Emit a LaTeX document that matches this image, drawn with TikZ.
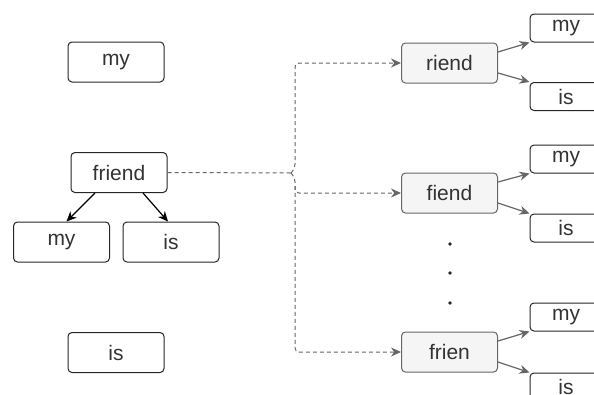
\documentclass[tikz,border=0pt]{standalone}
\usepackage{fontspec}
\setmainfont{Liberation Sans}
\usetikzlibrary{arrows.meta}
\definecolor{txt}{HTML}{333333}
\definecolor{edge}{HTML}{666666}
\definecolor{boxgray}{HTML}{F5F5F5}
\begin{document}
\begin{tikzpicture}[x=1pt,y=-1pt, line width=1pt,
    word/.style={draw=black!85, fill=white, rounded corners=4pt, minimum width=96pt,
      minimum height=40pt, inner sep=0pt, text=txt, font=\fontsize{21}{24}\selectfont},
    sub/.style={word, draw=edge, fill=boxgray},
    leaf/.style={word, minimum width=72pt, minimum height=28pt},
    tip/.style={-{Stealth[length=10pt,width=9pt]}},
    link/.style={tip, dash pattern=on 4pt off 3pt, edge, rounded corners=4pt},
    tree/.style={tip, edge, line width=1.2pt}]
  \clip (0,0) rectangle (594,394);
  % left side
  \node[word] (my) at (116,62) {my};
  \node[word] (friend) at (119,172.5) {friend};
  \node[word] (my2) at (61.5,242) {my};
  \node[word] (is2) at (171,242) {is};
  \node[word] (is) at (116,352.5) {is};
  \draw[tip, line width=1.2pt] ([xshift=-24pt]friend.south) -- ([xshift=5pt]my2.north);
  \draw[tip, line width=1.2pt] ([xshift=24pt]friend.south) -- ([xshift=-3pt]is2.north);
  % right side
  \node[sub] (riend) at (449.5,63) {riend};
  \node[sub] (fiend) at (449.5,193) {fiend};
  \node[sub] (frien) at (449.5,352) {frien};
  \node[leaf] (rmy) at (566,28) {my};
  \node[leaf] (ris) at (566,96.5) {is};
  \node[leaf] (fmy) at (566,159) {my};
  \node[leaf] (fis) at (566,228) {is};
  \node[leaf] (nmy) at (566,317) {my};
  \node[leaf] (nis) at (566,387) {is};
  \foreach \p/\a/\b in {riend/rmy/ris, fiend/fmy/fis, frien/nmy/nis} {
    \draw[tree] ([yshift=11pt]\p.east) -- (\a.south west);
    \draw[tree] ([yshift=-10pt]\p.east) -- (\b.north west);
  }
  \foreach \y in {244,273,303}
    \fill[black!85] (450,\y) circle (1.8pt);
  % brace
  \coordinate (bend) at (291,173);
  \coordinate (fork) at (295,186);
  \draw[edge, dash pattern=on 4pt off 3pt] (friend.east) -- (bend);
  \draw[link] (bend) -- ++(4,-5) |- (riend.west);
  \draw[link] (bend) -- ++(4,5) |- (frien.west);
  \draw[link] (fork) |- (fiend.west);
\end{tikzpicture}
\end{document}
